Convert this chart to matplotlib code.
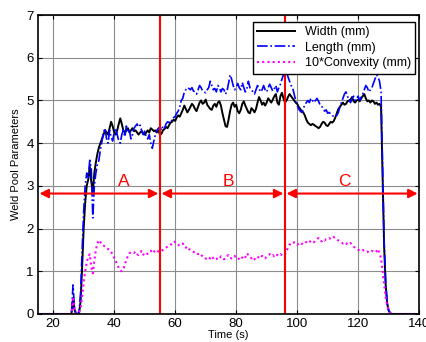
import numpy as np
import matplotlib.pyplot as plt

plt.rcParams['font.family'] = ['Liberation Sans', 'DejaVu Sans']

# time grid (s): readings every 0.5 s from 26 s to 131 s
t_data = np.arange(26.0, 131.01, 0.5)
t_lead = np.arange(15.0, 25.99, 0.5)
t_tail = np.arange(131.5, 139.01, 0.5)

width = [
    0, 0.35, 0.1, 0, 0, 0.02, 0.3, 1.1, 2.0, 2.6,
    3.0, 3.15, 3.45, 3.1, 2.85, 3.3, 3.55, 3.75, 3.9, 4.0,
    4.1, 4.2, 4.3, 4.25, 4.2, 4.35, 4.5, 4.4, 4.25, 4.2,
    4.3, 4.45, 4.58, 4.45, 4.3, 4.25, 4.3, 4.35, 4.25, 4.3,
    4.35, 4.28, 4.3, 4.25, 4.2, 4.25, 4.28, 4.22, 4.2, 4.25,
    4.3, 4.25, 4.35, 4.32, 4.28, 4.3, 4.25, 4.3, 4.2, 4.22,
    4.3, 4.33, 4.38, 4.35, 4.42, 4.48, 4.5, 4.55, 4.52, 4.6,
    4.65, 4.62, 4.7, 4.78, 4.88, 4.8, 4.72, 4.78, 4.85, 4.92,
    4.88, 4.8, 4.75, 4.85, 4.95, 5.0, 4.92, 4.95, 5.02, 4.9,
    4.85, 4.8, 4.78, 4.88, 4.92, 4.85, 4.95, 4.98, 4.88, 4.7,
    4.55, 4.4, 4.38, 4.55, 4.75, 4.9, 4.95, 4.85, 4.9, 4.75,
    4.7, 4.78, 4.92, 4.98, 4.88, 4.8, 4.72, 4.7, 4.82, 4.78,
    4.72, 4.8, 4.95, 5.08, 5.0, 4.9, 4.95, 4.88, 4.95, 5.05,
    5.0, 4.95, 5.02, 5.1, 5.15, 4.95, 4.9, 5.1, 5.18, 5.05,
    4.95, 5.0, 5.08, 5.15, 5.1, 5.05, 5.0, 4.95, 4.92, 4.85,
    4.8, 4.75, 4.72, 4.65, 4.55, 4.48, 4.45, 4.42, 4.45, 4.43,
    4.4, 4.38, 4.35, 4.38, 4.45, 4.5, 4.48, 4.42, 4.4, 4.45,
    4.5, 4.48, 4.52, 4.6, 4.7, 4.8, 4.85, 4.9, 4.95, 4.9,
    4.92, 4.98, 5.0, 5.02, 5.08, 4.98, 4.95, 5.0, 5.02, 4.98,
    5.05, 5.1, 5.15, 5.05, 4.98, 5.0, 4.95, 5.0, 4.98, 4.92,
    4.95, 4.9, 4.92, 4.85, 3.2, 1.6, 0.7, 0.25, 0.08, 0.02,
    0,
]

length = [
    0, 0.68, 0.15, 0, 0, 0.05, 0.5, 1.5, 2.4, 3.0,
    3.3, 3.2, 3.6, 3.4, 2.25, 3.0, 3.3, 3.5, 3.6, 3.85,
    4.05, 4.25, 4.35, 4.1, 4.0, 4.3, 4.15, 4.05, 4.25, 4.35,
    4.2, 4.05, 4.0, 4.2, 4.3, 4.15, 4.4, 4.25, 4.3, 4.1,
    4.2, 4.35, 4.4, 4.45, 4.38, 4.42, 4.3, 4.2, 4.28, 4.15,
    4.1, 4.2, 4.0, 3.88, 4.05, 4.2, 4.3, 4.35, 4.38, 4.3,
    4.4, 4.35, 4.45, 4.5, 4.48, 4.55, 4.52, 4.6, 4.62, 4.7,
    4.75, 4.85, 5.0, 5.05, 5.2, 5.25, 5.3, 5.28, 5.25, 5.3,
    5.22, 5.2, 5.15, 5.25, 5.35, 5.3, 5.22, 5.2, 5.18, 5.25,
    5.3, 5.45, 5.35, 5.25, 5.28, 5.2, 5.35, 5.3, 5.2, 5.28,
    5.25, 5.15, 5.22, 5.4, 5.6, 5.5, 5.35, 5.25, 5.3, 5.4,
    5.3, 5.25, 5.42, 5.3, 5.2, 5.28, 5.45, 5.3, 5.25, 5.2,
    5.15, 5.25, 5.35, 5.28, 5.2, 5.25, 5.35, 5.25, 5.2, 5.3,
    5.38, 5.3, 5.22, 5.28, 5.35, 5.2, 5.3, 5.38, 5.5, 5.6,
    5.75, 5.7, 5.55, 5.45, 5.35, 5.3, 5.15, 5.0, 4.88, 4.8,
    4.75, 4.72, 4.8, 4.9, 4.95, 5.0, 4.95, 5.05, 5.0, 4.95,
    5.0, 5.05, 4.98, 4.9, 4.88, 4.8, 4.75, 4.78, 4.7, 4.72,
    4.68, 4.65, 4.62, 4.62, 4.65, 4.72, 4.85, 4.95, 5.05, 5.15,
    5.2, 5.1, 5.0, 4.95, 5.05, 5.1, 5.0, 5.05, 5.1, 5.0,
    5.08, 5.15, 5.25, 5.35, 5.3, 5.2, 5.25, 5.3, 5.4, 5.5,
    5.6, 5.55, 5.45, 5.2, 3.5, 1.7, 0.75, 0.25, 0.08, 0.02,
    0,
]

convexity10 = [
    0, 0.35, 0.1, 0, 0, 0.05, 0.15, 0.4, 0.75, 1.0,
    1.2, 1.35, 1.4, 1.1, 0.95, 1.25, 1.5, 1.65, 1.73, 1.68,
    1.62, 1.6, 1.58, 1.55, 1.52, 1.5, 1.45, 1.4, 1.32, 1.25,
    1.15, 1.08, 1.02, 1.0, 1.05, 1.15, 1.28, 1.35, 1.42, 1.45,
    1.45, 1.43, 1.46, 1.4, 1.38, 1.42, 1.48, 1.4, 1.36, 1.38,
    1.42, 1.46, 1.48, 1.42, 1.45, 1.5, 1.5, 1.46, 1.45, 1.48,
    1.5, 1.52, 1.55, 1.58, 1.6, 1.62, 1.65, 1.7, 1.68, 1.66,
    1.62, 1.6, 1.62, 1.65, 1.6, 1.55, 1.58, 1.52, 1.5, 1.48,
    1.45, 1.46, 1.42, 1.4, 1.42, 1.38, 1.35, 1.3, 1.3, 1.28,
    1.32, 1.3, 1.35, 1.3, 1.26, 1.28, 1.32, 1.3, 1.35, 1.32,
    1.28, 1.3, 1.35, 1.38, 1.32, 1.3, 1.33, 1.36, 1.3, 1.28,
    1.3, 1.35, 1.32, 1.28, 1.33, 1.42, 1.38, 1.35, 1.3, 1.25,
    1.28, 1.32, 1.35, 1.3, 1.32, 1.36, 1.33, 1.3, 1.35, 1.38,
    1.4, 1.36, 1.38, 1.35, 1.4, 1.38, 1.36, 1.4, 1.38, 1.36,
    1.4, 1.48, 1.55, 1.62, 1.66, 1.65, 1.68, 1.66, 1.62, 1.65,
    1.67, 1.64, 1.66, 1.7, 1.68, 1.65, 1.68, 1.72, 1.7, 1.68,
    1.72, 1.75, 1.78, 1.72, 1.7, 1.74, 1.72, 1.75, 1.76, 1.78,
    1.75, 1.76, 1.8, 1.78, 1.75, 1.72, 1.7, 1.68, 1.65, 1.68,
    1.66, 1.62, 1.64, 1.66, 1.62, 1.58, 1.55, 1.52, 1.5, 1.5,
    1.48, 1.5, 1.47, 1.45, 1.46, 1.44, 1.45, 1.48, 1.45, 1.44,
    1.47, 1.52, 1.42, 1.3, 1.0, 0.7, 0.4, 0.2, 0.08, 0.02,
    0,
]

# phase boundaries (s) and labels
boundaries = [55, 96]
phases = ['A', 'B', 'C']
phase_spans = [(15.5, 54.5), (55.5, 95.5), (96.5, 139.5)]
phase_label_x = [43, 77.5, 115.5]
arrow_y = 2.82

t = np.concatenate([t_lead, t_data, t_tail])
pad_lead = np.zeros(len(t_lead))
pad_tail = np.zeros(len(t_tail))
w = np.concatenate([pad_lead, width, pad_tail])
l = np.concatenate([pad_lead, length, pad_tail])
c = np.concatenate([pad_lead, convexity10, pad_tail])

fig = plt.figure(figsize=(4.26, 3.42), dpi=100)
ax = fig.add_axes([0.089, 0.082, 0.895, 0.874])

ax.plot(t, w, color='black', lw=1.4, label='Width (mm)')
ax.plot(t, l, color='blue', ls='-.', lw=1.2, label='Length (mm)')
ax.plot(t, c, color='magenta', ls=(0, (1, 1.5)), lw=1.5, label='10*Convexity (mm)')

for b in boundaries:
    ax.axvline(b, color='red', lw=1.5)

for name, (x0, x1), lx in zip(phases, phase_spans, phase_label_x):
    ax.annotate('', xy=(x1, arrow_y), xytext=(x0, arrow_y),
                arrowprops=dict(arrowstyle='<|-|>', color='red', lw=1.5,
                                mutation_scale=13, shrinkA=0, shrinkB=0))
    ax.text(lx, arrow_y + 0.1, name, color='red', fontsize=12.5,
            ha='center', va='bottom')

ax.set_xlim(15, 140)
ax.set_ylim(0, 7)
ax.set_xticks([20, 40, 60, 80, 100, 120, 140])
ax.set_yticks(range(0, 8))
ax.tick_params(direction='in', top=True, right=True, labelsize=9.5, length=3, pad=3)
ax.grid(True, color='0.55', lw=0.8)
ax.set_axisbelow(True)
for s in ax.spines.values():
    s.set_linewidth(1.2)

ax.set_xlabel('Time (s)', fontsize=8, labelpad=0)
ax.set_ylabel('Weld Pool Parameters', fontsize=8, labelpad=4)

leg = ax.legend(loc='upper right', bbox_to_anchor=(0.99, 0.978), fontsize=9,
                fancybox=False, framealpha=1, edgecolor='black',
                handlelength=3.0, borderpad=0.35, labelspacing=0.3,
                borderaxespad=0)
leg.get_frame().set_linewidth(1.0)

fig.savefig('out.png', dpi=100)
